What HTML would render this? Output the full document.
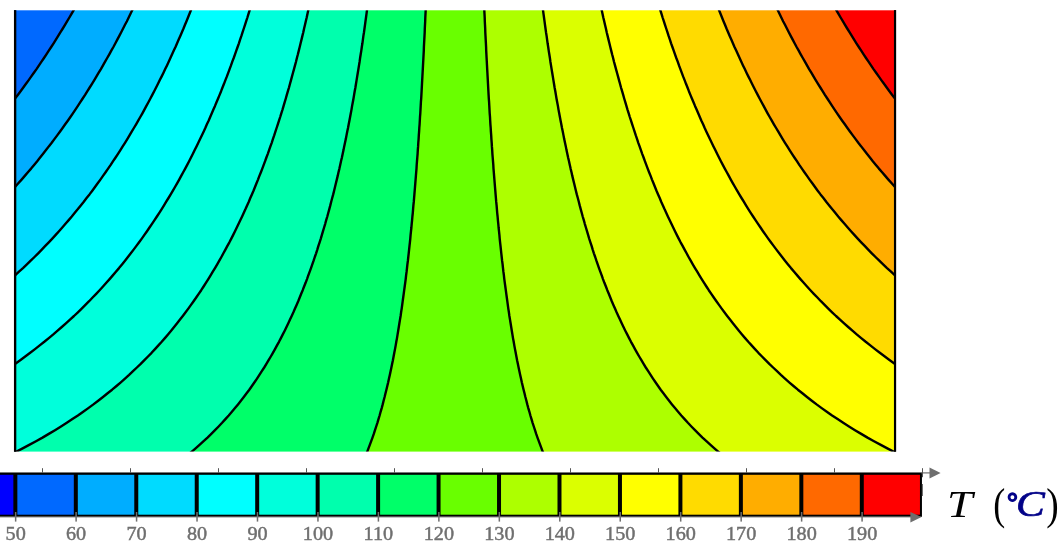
<!DOCTYPE html>
<html><head><meta charset="utf-8"><title>Temperature contour</title>
<style>html,body{margin:0;padding:0;background:#fff;}svg{display:block;}</style></head>
<body>
<svg width="1064" height="548" viewBox="0 0 1064 548">
<rect width="1064" height="548" fill="#fff"/>
<defs><clipPath id="cp"><rect x="14" y="10" width="882" height="442"/></clipPath></defs>
<g clip-path="url(#cp)">
<rect x="9.0" y="4.300000000000001" width="892.0" height="453.3" fill="#0069ff"/>
<polygon points="6.2,467.0 6.2,463.4 6.2,459.7 6.2,456.0 6.2,452.3 6.2,448.6 6.2,444.9 6.2,441.2 6.2,437.6 6.2,433.9 6.2,430.2 6.2,426.5 6.2,422.8 6.2,419.1 6.2,415.5 6.2,411.8 6.2,408.1 6.2,404.4 6.2,400.7 6.2,397.0 6.2,393.3 6.2,389.7 6.2,386.0 6.2,382.3 6.2,378.6 6.2,374.9 6.2,371.2 6.2,367.5 6.2,363.9 6.2,360.2 6.2,356.5 6.2,352.8 6.2,349.1 6.2,345.4 6.2,341.8 6.2,338.1 6.2,334.4 6.2,330.7 6.2,327.0 6.2,323.3 6.2,319.6 6.2,316.0 6.2,312.3 6.2,308.6 6.2,304.9 6.2,301.2 6.2,297.5 6.2,293.8 6.2,290.2 6.2,286.5 6.2,282.8 6.2,279.1 6.2,275.4 6.2,271.7 6.2,268.1 6.2,264.4 6.2,260.7 6.2,257.0 6.2,253.3 6.2,249.6 6.2,245.9 6.2,242.3 6.2,238.6 6.2,234.9 6.2,231.2 6.2,227.5 6.2,223.8 6.2,220.1 6.2,216.5 6.2,212.8 6.2,209.1 6.2,205.4 6.2,201.7 6.2,198.0 6.2,194.4 6.2,190.7 6.2,187.0 6.2,183.3 6.2,179.6 6.2,175.9 6.2,172.2 6.2,168.6 6.2,164.9 6.2,161.2 6.2,157.5 6.2,153.8 6.2,150.1 6.2,146.4 6.2,142.8 6.2,139.1 6.2,135.4 6.2,131.7 6.2,128.0 6.2,124.3 6.2,120.7 6.2,117.0 6.2,113.3 6.4,109.6 9.3,105.9 12.2,102.2 15.0,98.5 17.8,94.9 20.6,91.2 23.3,87.5 26.0,83.8 28.7,80.1 31.3,76.4 33.9,72.7 36.5,69.1 39.0,65.4 41.5,61.7 44.0,58.0 46.4,54.3 48.8,50.6 51.2,47.0 53.6,43.3 55.9,39.6 58.2,35.9 60.5,32.2 62.8,28.5 65.0,24.8 67.2,21.2 69.4,17.5 71.5,13.8 73.7,10.1 75.8,6.4 77.9,2.7 79.9,-1.0 82.0,-4.6 903.0,-4.6 903.0,467.0" fill="#00adff"/>
<polygon points="6.2,467.0 6.2,463.4 6.2,459.7 6.2,456.0 6.2,452.3 6.2,448.6 6.2,444.9 6.2,441.2 6.2,437.6 6.2,433.9 6.2,430.2 6.2,426.5 6.2,422.8 6.2,419.1 6.2,415.5 6.2,411.8 6.2,408.1 6.2,404.4 6.2,400.7 6.2,397.0 6.2,393.3 6.2,389.7 6.2,386.0 6.2,382.3 6.2,378.6 6.2,374.9 6.2,371.2 6.2,367.5 6.2,363.9 6.2,360.2 6.2,356.5 6.2,352.8 6.2,349.1 6.2,345.4 6.2,341.8 6.2,338.1 6.2,334.4 6.2,330.7 6.2,327.0 6.2,323.3 6.2,319.6 6.2,316.0 6.2,312.3 6.2,308.6 6.2,304.9 6.2,301.2 6.2,297.5 6.2,293.8 6.2,290.2 6.2,286.5 6.2,282.8 6.2,279.1 6.2,275.4 6.2,271.7 6.2,268.1 6.2,264.4 6.2,260.7 6.2,257.0 6.2,253.3 6.2,249.6 6.2,245.9 6.2,242.3 6.2,238.6 6.2,234.9 6.2,231.2 6.2,227.5 6.2,223.8 6.2,220.1 6.2,216.5 6.2,212.8 6.2,209.1 6.2,205.4 6.2,201.7 6.2,198.0 8.2,194.4 11.6,190.7 15.0,187.0 18.3,183.3 21.6,179.6 24.8,175.9 27.9,172.2 31.1,168.6 34.1,164.9 37.2,161.2 40.1,157.5 43.1,153.8 46.0,150.1 48.8,146.4 51.7,142.8 54.4,139.1 57.2,135.4 59.9,131.7 62.6,128.0 65.2,124.3 67.8,120.7 70.4,117.0 72.9,113.3 75.4,109.6 77.9,105.9 80.3,102.2 82.7,98.5 85.1,94.9 87.4,91.2 89.7,87.5 92.0,83.8 94.3,80.1 96.5,76.4 98.7,72.7 100.9,69.1 103.0,65.4 105.1,61.7 107.2,58.0 109.3,54.3 111.3,50.6 113.4,47.0 115.4,43.3 117.3,39.6 119.3,35.9 121.2,32.2 123.1,28.5 125.0,24.8 126.9,21.2 128.7,17.5 130.5,13.8 132.3,10.1 134.1,6.4 135.9,2.7 137.6,-1.0 139.3,-4.6 903.0,-4.6 903.0,467.0" fill="#00dbff"/>
<polygon points="6.2,467.0 6.2,463.4 6.2,459.7 6.2,456.0 6.2,452.3 6.2,448.6 6.2,444.9 6.2,441.2 6.2,437.6 6.2,433.9 6.2,430.2 6.2,426.5 6.2,422.8 6.2,419.1 6.2,415.5 6.2,411.8 6.2,408.1 6.2,404.4 6.2,400.7 6.2,397.0 6.2,393.3 6.2,389.7 6.2,386.0 6.2,382.3 6.2,378.6 6.2,374.9 6.2,371.2 6.2,367.5 6.2,363.9 6.2,360.2 6.2,356.5 6.2,352.8 6.2,349.1 6.2,345.4 6.2,341.8 6.2,338.1 6.2,334.4 6.2,330.7 6.2,327.0 6.2,323.3 6.2,319.6 6.2,316.0 6.2,312.3 6.2,308.6 6.2,304.9 6.2,301.2 6.2,297.5 6.2,293.8 6.2,290.2 6.2,286.5 6.7,282.8 10.9,279.1 15.0,275.4 19.0,271.7 23.0,268.1 26.9,264.4 30.7,260.7 34.5,257.0 38.2,253.3 41.8,249.6 45.3,245.9 48.8,242.3 52.3,238.6 55.7,234.9 59.0,231.2 62.3,227.5 65.5,223.8 68.7,220.1 71.8,216.5 74.8,212.8 77.9,209.1 80.8,205.4 83.8,201.7 86.6,198.0 89.5,194.4 92.3,190.7 95.0,187.0 97.7,183.3 100.4,179.6 103.0,175.9 105.6,172.2 108.1,168.6 110.7,164.9 113.1,161.2 115.6,157.5 118.0,153.8 120.4,150.1 122.7,146.4 125.0,142.8 127.3,139.1 129.5,135.4 131.7,131.7 133.9,128.0 136.1,124.3 138.2,120.7 140.3,117.0 142.4,113.3 144.4,109.6 146.4,105.9 148.4,102.2 150.4,98.5 152.3,94.9 154.2,91.2 156.1,87.5 158.0,83.8 159.8,80.1 161.7,76.4 163.5,72.7 165.2,69.1 167.0,65.4 168.7,61.7 170.4,58.0 172.1,54.3 173.8,50.6 175.5,47.0 177.1,43.3 178.7,39.6 180.3,35.9 181.9,32.2 183.5,28.5 185.0,24.8 186.5,21.2 188.0,17.5 189.5,13.8 191.0,10.1 192.5,6.4 193.9,2.7 195.3,-1.0 196.7,-4.6 903.0,-4.6 903.0,467.0" fill="#00ffff"/>
<polygon points="6.2,467.0 6.2,463.4 6.2,459.7 6.2,456.0 6.2,452.3 6.2,448.6 6.2,444.9 6.2,441.2 6.2,437.6 6.2,433.9 6.2,430.2 6.2,426.5 6.2,422.8 6.2,419.1 6.2,415.5 6.2,411.8 6.2,408.1 6.2,404.4 6.2,400.7 6.2,397.0 6.2,393.3 6.2,389.7 6.2,386.0 6.2,382.3 6.2,378.6 6.2,374.9 6.2,371.2 9.7,367.5 15.0,363.9 20.2,360.2 25.2,356.5 30.2,352.8 35.0,349.1 39.7,345.4 44.3,341.8 48.8,338.1 53.3,334.4 57.6,330.7 61.8,327.0 65.9,323.3 70.0,319.6 74.0,316.0 77.9,312.3 81.7,308.6 85.4,304.9 89.1,301.2 92.6,297.5 96.2,293.8 99.6,290.2 103.0,286.5 106.3,282.8 109.6,279.1 112.8,275.4 115.9,271.7 119.0,268.1 122.0,264.4 125.0,260.7 127.9,257.0 130.8,253.3 133.6,249.6 136.4,245.9 139.1,242.3 141.8,238.6 144.4,234.9 147.0,231.2 149.5,227.5 152.0,223.8 154.5,220.1 156.9,216.5 159.3,212.8 161.7,209.1 164.0,205.4 166.2,201.7 168.5,198.0 170.7,194.4 172.9,190.7 175.0,187.0 177.1,183.3 179.2,179.6 181.2,175.9 183.2,172.2 185.2,168.6 187.2,164.9 189.1,161.2 191.0,157.5 192.9,153.8 194.7,150.1 196.5,146.4 198.3,142.8 200.1,139.1 201.8,135.4 203.6,131.7 205.3,128.0 206.9,124.3 208.6,120.7 210.2,117.0 211.8,113.3 213.4,109.6 215.0,105.9 216.5,102.2 218.1,98.5 219.6,94.9 221.1,91.2 222.5,87.5 224.0,83.8 225.4,80.1 226.9,76.4 228.3,72.7 229.6,69.1 231.0,65.4 232.3,61.7 233.7,58.0 235.0,54.3 236.3,50.6 237.6,47.0 238.9,43.3 240.1,39.6 241.4,35.9 242.6,32.2 243.8,28.5 245.0,24.8 246.2,21.2 247.4,17.5 248.5,13.8 249.7,10.1 250.8,6.4 251.9,2.7 253.0,-1.0 254.1,-4.6 903.0,-4.6 903.0,467.0" fill="#00ffdb"/>
<polygon points="6.2,467.0 6.2,463.4 6.2,459.7 7.5,456.0 15.0,452.3 22.2,448.6 29.2,444.9 36.0,441.2 42.5,437.6 48.8,433.9 55.0,430.2 61.0,426.5 66.8,422.8 72.4,419.1 77.9,415.5 83.2,411.8 88.3,408.1 93.4,404.4 98.2,400.7 103.0,397.0 107.6,393.3 112.1,389.7 116.5,386.0 120.8,382.3 125.0,378.6 129.1,374.9 133.0,371.2 136.9,367.5 140.7,363.9 144.4,360.2 148.0,356.5 151.6,352.8 155.0,349.1 158.4,345.4 161.7,341.8 164.9,338.1 168.0,334.4 171.1,330.7 174.1,327.0 177.1,323.3 180.0,319.6 182.8,316.0 185.6,312.3 188.3,308.6 191.0,304.9 193.6,301.2 196.2,297.5 198.7,293.8 201.2,290.2 203.6,286.5 205.9,282.8 208.3,279.1 210.6,275.4 212.8,271.7 215.0,268.1 217.2,264.4 219.3,260.7 221.4,257.0 223.4,253.3 225.4,249.6 227.4,245.9 229.4,242.3 231.3,238.6 233.2,234.9 235.0,231.2 236.8,227.5 238.6,223.8 240.4,220.1 242.1,216.5 243.8,212.8 245.5,209.1 247.1,205.4 248.8,201.7 250.3,198.0 251.9,194.4 253.5,190.7 255.0,187.0 256.5,183.3 258.0,179.6 259.4,175.9 260.9,172.2 262.3,168.6 263.7,164.9 265.1,161.2 266.4,157.5 267.8,153.8 269.1,150.1 270.4,146.4 271.7,142.8 272.9,139.1 274.2,135.4 275.4,131.7 276.6,128.0 277.8,124.3 279.0,120.7 280.2,117.0 281.3,113.3 282.5,109.6 283.6,105.9 284.7,102.2 285.8,98.5 286.8,94.9 287.9,91.2 289.0,87.5 290.0,83.8 291.0,80.1 292.0,76.4 293.0,72.7 294.0,69.1 295.0,65.4 296.0,61.7 296.9,58.0 297.9,54.3 298.8,50.6 299.7,47.0 300.6,43.3 301.5,39.6 302.4,35.9 303.3,32.2 304.1,28.5 305.0,24.8 305.8,21.2 306.7,17.5 307.5,13.8 308.3,10.1 309.1,6.4 309.9,2.7 310.7,-1.0 311.5,-4.6 903.0,-4.6 903.0,467.0" fill="#00ffad"/>
<polygon points="172.1,467.0 177.1,463.4 181.9,459.7 186.5,456.0 191.0,452.3 195.3,448.6 199.5,444.9 203.6,441.2 207.5,437.6 211.3,433.9 215.0,430.2 218.6,426.5 222.1,422.8 225.4,419.1 228.7,415.5 231.9,411.8 235.0,408.1 238.0,404.4 240.9,400.7 243.8,397.0 246.6,393.3 249.3,389.7 251.9,386.0 254.5,382.3 257.0,378.6 259.4,374.9 261.8,371.2 264.2,367.5 266.4,363.9 268.6,360.2 270.8,356.5 272.9,352.8 275.0,349.1 277.0,345.4 279.0,341.8 280.9,338.1 282.8,334.4 284.7,330.7 286.5,327.0 288.3,323.3 290.0,319.6 291.7,316.0 293.4,312.3 295.0,308.6 296.6,304.9 298.2,301.2 299.7,297.5 301.2,293.8 302.7,290.2 304.1,286.5 305.6,282.8 307.0,279.1 308.3,275.4 309.7,271.7 311.0,268.1 312.3,264.4 313.6,260.7 314.8,257.0 316.1,253.3 317.3,249.6 318.4,245.9 319.6,242.3 320.8,238.6 321.9,234.9 323.0,231.2 324.1,227.5 325.2,223.8 326.2,220.1 327.3,216.5 328.3,212.8 329.3,209.1 330.3,205.4 331.2,201.7 332.2,198.0 333.2,194.4 334.1,190.7 335.0,187.0 335.9,183.3 336.8,179.6 337.7,175.9 338.5,172.2 339.4,168.6 340.2,164.9 341.0,161.2 341.9,157.5 342.7,153.8 343.5,150.1 344.2,146.4 345.0,142.8 345.8,139.1 346.5,135.4 347.2,131.7 348.0,128.0 348.7,124.3 349.4,120.7 350.1,117.0 350.8,113.3 351.5,109.6 352.1,105.9 352.8,102.2 353.5,98.5 354.1,94.9 354.7,91.2 355.4,87.5 356.0,83.8 356.6,80.1 357.2,76.4 357.8,72.7 358.4,69.1 359.0,65.4 359.6,61.7 360.1,58.0 360.7,54.3 361.3,50.6 361.8,47.0 362.4,43.3 362.9,39.6 363.4,35.9 364.0,32.2 364.5,28.5 365.0,24.8 365.5,21.2 366.0,17.5 366.5,13.8 367.0,10.1 367.5,6.4 368.0,2.7 368.4,-1.0 368.9,-4.6 903.0,-4.6 903.0,467.0" fill="#00ff69"/>
<polygon points="360.7,467.0 362.4,463.4 364.0,459.7 365.5,456.0 367.0,452.3 368.4,448.6 369.8,444.9 371.2,441.2 372.5,437.6 373.8,433.9 375.0,430.2 376.2,426.5 377.4,422.8 378.5,419.1 379.6,415.5 380.6,411.8 381.7,408.1 382.7,404.4 383.6,400.7 384.6,397.0 385.5,393.3 386.4,389.7 387.3,386.0 388.2,382.3 389.0,378.6 389.8,374.9 390.6,371.2 391.4,367.5 392.1,363.9 392.9,360.2 393.6,356.5 394.3,352.8 395.0,349.1 395.7,345.4 396.3,341.8 397.0,338.1 397.6,334.4 398.2,330.7 398.8,327.0 399.4,323.3 400.0,319.6 400.6,316.0 401.1,312.3 401.7,308.6 402.2,304.9 402.7,301.2 403.2,297.5 403.7,293.8 404.2,290.2 404.7,286.5 405.2,282.8 405.7,279.1 406.1,275.4 406.6,271.7 407.0,268.1 407.4,264.4 407.9,260.7 408.3,257.0 408.7,253.3 409.1,249.6 409.5,245.9 409.9,242.3 410.3,238.6 410.6,234.9 411.0,231.2 411.4,227.5 411.7,223.8 412.1,220.1 412.4,216.5 412.8,212.8 413.1,209.1 413.4,205.4 413.8,201.7 414.1,198.0 414.4,194.4 414.7,190.7 415.0,187.0 415.3,183.3 415.6,179.6 415.9,175.9 416.2,172.2 416.5,168.6 416.7,164.9 417.0,161.2 417.3,157.5 417.6,153.8 417.8,150.1 418.1,146.4 418.3,142.8 418.6,139.1 418.8,135.4 419.1,131.7 419.3,128.0 419.6,124.3 419.8,120.7 420.0,117.0 420.3,113.3 420.5,109.6 420.7,105.9 420.9,102.2 421.2,98.5 421.4,94.9 421.6,91.2 421.8,87.5 422.0,83.8 422.2,80.1 422.4,76.4 422.6,72.7 422.8,69.1 423.0,65.4 423.2,61.7 423.4,58.0 423.6,54.3 423.8,50.6 423.9,47.0 424.1,43.3 424.3,39.6 424.5,35.9 424.7,32.2 424.8,28.5 425.0,24.8 425.2,21.2 425.3,17.5 425.5,13.8 425.7,10.1 425.8,6.4 426.0,2.7 426.1,-1.0 426.3,-4.6 903.0,-4.6 903.0,467.0" fill="#69ff00"/>
<polygon points="549.3,467.0 547.6,463.4 546.0,459.7 544.5,456.0 543.0,452.3 541.6,448.6 540.2,444.9 538.8,441.2 537.5,437.6 536.2,433.9 535.0,430.2 533.8,426.5 532.6,422.8 531.5,419.1 530.4,415.5 529.4,411.8 528.3,408.1 527.3,404.4 526.4,400.7 525.4,397.0 524.5,393.3 523.6,389.7 522.7,386.0 521.8,382.3 521.0,378.6 520.2,374.9 519.4,371.2 518.6,367.5 517.9,363.9 517.1,360.2 516.4,356.5 515.7,352.8 515.0,349.1 514.3,345.4 513.7,341.8 513.0,338.1 512.4,334.4 511.8,330.7 511.2,327.0 510.6,323.3 510.0,319.6 509.4,316.0 508.9,312.3 508.3,308.6 507.8,304.9 507.3,301.2 506.8,297.5 506.3,293.8 505.8,290.2 505.3,286.5 504.8,282.8 504.3,279.1 503.9,275.4 503.4,271.7 503.0,268.1 502.6,264.4 502.1,260.7 501.7,257.0 501.3,253.3 500.9,249.6 500.5,245.9 500.1,242.3 499.7,238.6 499.4,234.9 499.0,231.2 498.6,227.5 498.3,223.8 497.9,220.1 497.6,216.5 497.2,212.8 496.9,209.1 496.6,205.4 496.2,201.7 495.9,198.0 495.6,194.4 495.3,190.7 495.0,187.0 494.7,183.3 494.4,179.6 494.1,175.9 493.8,172.2 493.5,168.6 493.3,164.9 493.0,161.2 492.7,157.5 492.4,153.8 492.2,150.1 491.9,146.4 491.7,142.8 491.4,139.1 491.2,135.4 490.9,131.7 490.7,128.0 490.4,124.3 490.2,120.7 490.0,117.0 489.7,113.3 489.5,109.6 489.3,105.9 489.1,102.2 488.8,98.5 488.6,94.9 488.4,91.2 488.2,87.5 488.0,83.8 487.8,80.1 487.6,76.4 487.4,72.7 487.2,69.1 487.0,65.4 486.8,61.7 486.6,58.0 486.4,54.3 486.2,50.6 486.1,47.0 485.9,43.3 485.7,39.6 485.5,35.9 485.3,32.2 485.2,28.5 485.0,24.8 484.8,21.2 484.7,17.5 484.5,13.8 484.3,10.1 484.2,6.4 484.0,2.7 483.9,-1.0 483.7,-4.6 903.0,-4.6 903.0,467.0" fill="#adff00"/>
<polygon points="737.9,467.0 732.9,463.4 728.1,459.7 723.5,456.0 719.0,452.3 714.7,448.6 710.5,444.9 706.4,441.2 702.5,437.6 698.7,433.9 695.0,430.2 691.4,426.5 687.9,422.8 684.6,419.1 681.3,415.5 678.1,411.8 675.0,408.1 672.0,404.4 669.1,400.7 666.2,397.0 663.4,393.3 660.7,389.7 658.1,386.0 655.5,382.3 653.0,378.6 650.6,374.9 648.2,371.2 645.8,367.5 643.6,363.9 641.4,360.2 639.2,356.5 637.1,352.8 635.0,349.1 633.0,345.4 631.0,341.8 629.1,338.1 627.2,334.4 625.3,330.7 623.5,327.0 621.7,323.3 620.0,319.6 618.3,316.0 616.6,312.3 615.0,308.6 613.4,304.9 611.8,301.2 610.3,297.5 608.8,293.8 607.3,290.2 605.9,286.5 604.4,282.8 603.0,279.1 601.7,275.4 600.3,271.7 599.0,268.1 597.7,264.4 596.4,260.7 595.2,257.0 593.9,253.3 592.7,249.6 591.6,245.9 590.4,242.3 589.2,238.6 588.1,234.9 587.0,231.2 585.9,227.5 584.8,223.8 583.8,220.1 582.7,216.5 581.7,212.8 580.7,209.1 579.7,205.4 578.8,201.7 577.8,198.0 576.8,194.4 575.9,190.7 575.0,187.0 574.1,183.3 573.2,179.6 572.3,175.9 571.5,172.2 570.6,168.6 569.8,164.9 569.0,161.2 568.1,157.5 567.3,153.8 566.5,150.1 565.8,146.4 565.0,142.8 564.2,139.1 563.5,135.4 562.8,131.7 562.0,128.0 561.3,124.3 560.6,120.7 559.9,117.0 559.2,113.3 558.5,109.6 557.9,105.9 557.2,102.2 556.5,98.5 555.9,94.9 555.3,91.2 554.6,87.5 554.0,83.8 553.4,80.1 552.8,76.4 552.2,72.7 551.6,69.1 551.0,65.4 550.4,61.7 549.9,58.0 549.3,54.3 548.7,50.6 548.2,47.0 547.6,43.3 547.1,39.6 546.6,35.9 546.0,32.2 545.5,28.5 545.0,24.8 544.5,21.2 544.0,17.5 543.5,13.8 543.0,10.1 542.5,6.4 542.0,2.7 541.6,-1.0 541.1,-4.6 903.0,-4.6 903.0,467.0" fill="#dbff00"/>
<polygon points="903.8,467.0 903.8,463.4 903.8,459.7 902.5,456.0 895.0,452.3 887.8,448.6 880.8,444.9 874.0,441.2 867.5,437.6 861.2,433.9 855.0,430.2 849.0,426.5 843.2,422.8 837.6,419.1 832.1,415.5 826.8,411.8 821.7,408.1 816.6,404.4 811.8,400.7 807.0,397.0 802.4,393.3 797.9,389.7 793.5,386.0 789.2,382.3 785.0,378.6 780.9,374.9 777.0,371.2 773.1,367.5 769.3,363.9 765.6,360.2 762.0,356.5 758.4,352.8 755.0,349.1 751.6,345.4 748.3,341.8 745.1,338.1 742.0,334.4 738.9,330.7 735.9,327.0 732.9,323.3 730.0,319.6 727.2,316.0 724.4,312.3 721.7,308.6 719.0,304.9 716.4,301.2 713.8,297.5 711.3,293.8 708.8,290.2 706.4,286.5 704.1,282.8 701.7,279.1 699.4,275.4 697.2,271.7 695.0,268.1 692.8,264.4 690.7,260.7 688.6,257.0 686.6,253.3 684.6,249.6 682.6,245.9 680.6,242.3 678.7,238.6 676.8,234.9 675.0,231.2 673.2,227.5 671.4,223.8 669.6,220.1 667.9,216.5 666.2,212.8 664.5,209.1 662.9,205.4 661.2,201.7 659.7,198.0 658.1,194.4 656.5,190.7 655.0,187.0 653.5,183.3 652.0,179.6 650.6,175.9 649.1,172.2 647.7,168.6 646.3,164.9 644.9,161.2 643.6,157.5 642.2,153.8 640.9,150.1 639.6,146.4 638.3,142.8 637.1,139.1 635.8,135.4 634.6,131.7 633.4,128.0 632.2,124.3 631.0,120.7 629.8,117.0 628.7,113.3 627.5,109.6 626.4,105.9 625.3,102.2 624.2,98.5 623.2,94.9 622.1,91.2 621.0,87.5 620.0,83.8 619.0,80.1 618.0,76.4 617.0,72.7 616.0,69.1 615.0,65.4 614.0,61.7 613.1,58.0 612.1,54.3 611.2,50.6 610.3,47.0 609.4,43.3 608.5,39.6 607.6,35.9 606.7,32.2 605.9,28.5 605.0,24.8 604.2,21.2 603.3,17.5 602.5,13.8 601.7,10.1 600.9,6.4 600.1,2.7 599.3,-1.0 598.5,-4.6 903.0,-4.6 903.0,467.0" fill="#ffff00"/>
<polygon points="903.8,467.0 903.8,463.4 903.8,459.7 903.8,456.0 903.8,452.3 903.8,448.6 903.8,444.9 903.8,441.2 903.8,437.6 903.8,433.9 903.8,430.2 903.8,426.5 903.8,422.8 903.8,419.1 903.8,415.5 903.8,411.8 903.8,408.1 903.8,404.4 903.8,400.7 903.8,397.0 903.8,393.3 903.8,389.7 903.8,386.0 903.8,382.3 903.8,378.6 903.8,374.9 903.8,371.2 900.3,367.5 895.0,363.9 889.8,360.2 884.8,356.5 879.8,352.8 875.0,349.1 870.3,345.4 865.7,341.8 861.2,338.1 856.7,334.4 852.4,330.7 848.2,327.0 844.1,323.3 840.0,319.6 836.0,316.0 832.1,312.3 828.3,308.6 824.6,304.9 820.9,301.2 817.4,297.5 813.8,293.8 810.4,290.2 807.0,286.5 803.7,282.8 800.4,279.1 797.2,275.4 794.1,271.7 791.0,268.1 788.0,264.4 785.0,260.7 782.1,257.0 779.2,253.3 776.4,249.6 773.6,245.9 770.9,242.3 768.2,238.6 765.6,234.9 763.0,231.2 760.5,227.5 758.0,223.8 755.5,220.1 753.1,216.5 750.7,212.8 748.3,209.1 746.0,205.4 743.8,201.7 741.5,198.0 739.3,194.4 737.1,190.7 735.0,187.0 732.9,183.3 730.8,179.6 728.8,175.9 726.8,172.2 724.8,168.6 722.8,164.9 720.9,161.2 719.0,157.5 717.1,153.8 715.3,150.1 713.5,146.4 711.7,142.8 709.9,139.1 708.2,135.4 706.4,131.7 704.7,128.0 703.1,124.3 701.4,120.7 699.8,117.0 698.2,113.3 696.6,109.6 695.0,105.9 693.5,102.2 691.9,98.5 690.4,94.9 688.9,91.2 687.5,87.5 686.0,83.8 684.6,80.1 683.1,76.4 681.7,72.7 680.4,69.1 679.0,65.4 677.7,61.7 676.3,58.0 675.0,54.3 673.7,50.6 672.4,47.0 671.1,43.3 669.9,39.6 668.6,35.9 667.4,32.2 666.2,28.5 665.0,24.8 663.8,21.2 662.6,17.5 661.5,13.8 660.3,10.1 659.2,6.4 658.1,2.7 657.0,-1.0 655.9,-4.6 903.0,-4.6 903.0,467.0" fill="#ffdb00"/>
<polygon points="903.8,467.0 903.8,463.4 903.8,459.7 903.8,456.0 903.8,452.3 903.8,448.6 903.8,444.9 903.8,441.2 903.8,437.6 903.8,433.9 903.8,430.2 903.8,426.5 903.8,422.8 903.8,419.1 903.8,415.5 903.8,411.8 903.8,408.1 903.8,404.4 903.8,400.7 903.8,397.0 903.8,393.3 903.8,389.7 903.8,386.0 903.8,382.3 903.8,378.6 903.8,374.9 903.8,371.2 903.8,367.5 903.8,363.9 903.8,360.2 903.8,356.5 903.8,352.8 903.8,349.1 903.8,345.4 903.8,341.8 903.8,338.1 903.8,334.4 903.8,330.7 903.8,327.0 903.8,323.3 903.8,319.6 903.8,316.0 903.8,312.3 903.8,308.6 903.8,304.9 903.8,301.2 903.8,297.5 903.8,293.8 903.8,290.2 903.8,286.5 903.3,282.8 899.1,279.1 895.0,275.4 891.0,271.7 887.0,268.1 883.1,264.4 879.3,260.7 875.5,257.0 871.8,253.3 868.2,249.6 864.7,245.9 861.2,242.3 857.7,238.6 854.3,234.9 851.0,231.2 847.7,227.5 844.5,223.8 841.3,220.1 838.2,216.5 835.2,212.8 832.1,209.1 829.2,205.4 826.2,201.7 823.4,198.0 820.5,194.4 817.7,190.7 815.0,187.0 812.3,183.3 809.6,179.6 807.0,175.9 804.4,172.2 801.9,168.6 799.3,164.9 796.9,161.2 794.4,157.5 792.0,153.8 789.6,150.1 787.3,146.4 785.0,142.8 782.7,139.1 780.5,135.4 778.3,131.7 776.1,128.0 773.9,124.3 771.8,120.7 769.7,117.0 767.6,113.3 765.6,109.6 763.6,105.9 761.6,102.2 759.6,98.5 757.7,94.9 755.8,91.2 753.9,87.5 752.0,83.8 750.2,80.1 748.3,76.4 746.5,72.7 744.8,69.1 743.0,65.4 741.3,61.7 739.6,58.0 737.9,54.3 736.2,50.6 734.5,47.0 732.9,43.3 731.3,39.6 729.7,35.9 728.1,32.2 726.5,28.5 725.0,24.8 723.5,21.2 722.0,17.5 720.5,13.8 719.0,10.1 717.5,6.4 716.1,2.7 714.7,-1.0 713.3,-4.6 903.0,-4.6 903.0,467.0" fill="#ffad00"/>
<polygon points="903.8,467.0 903.8,463.4 903.8,459.7 903.8,456.0 903.8,452.3 903.8,448.6 903.8,444.9 903.8,441.2 903.8,437.6 903.8,433.9 903.8,430.2 903.8,426.5 903.8,422.8 903.8,419.1 903.8,415.5 903.8,411.8 903.8,408.1 903.8,404.4 903.8,400.7 903.8,397.0 903.8,393.3 903.8,389.7 903.8,386.0 903.8,382.3 903.8,378.6 903.8,374.9 903.8,371.2 903.8,367.5 903.8,363.9 903.8,360.2 903.8,356.5 903.8,352.8 903.8,349.1 903.8,345.4 903.8,341.8 903.8,338.1 903.8,334.4 903.8,330.7 903.8,327.0 903.8,323.3 903.8,319.6 903.8,316.0 903.8,312.3 903.8,308.6 903.8,304.9 903.8,301.2 903.8,297.5 903.8,293.8 903.8,290.2 903.8,286.5 903.8,282.8 903.8,279.1 903.8,275.4 903.8,271.7 903.8,268.1 903.8,264.4 903.8,260.7 903.8,257.0 903.8,253.3 903.8,249.6 903.8,245.9 903.8,242.3 903.8,238.6 903.8,234.9 903.8,231.2 903.8,227.5 903.8,223.8 903.8,220.1 903.8,216.5 903.8,212.8 903.8,209.1 903.8,205.4 903.8,201.7 903.8,198.0 901.8,194.4 898.4,190.7 895.0,187.0 891.7,183.3 888.4,179.6 885.2,175.9 882.1,172.2 878.9,168.6 875.9,164.9 872.8,161.2 869.9,157.5 866.9,153.8 864.0,150.1 861.2,146.4 858.3,142.8 855.6,139.1 852.8,135.4 850.1,131.7 847.4,128.0 844.8,124.3 842.2,120.7 839.6,117.0 837.1,113.3 834.6,109.6 832.1,105.9 829.7,102.2 827.3,98.5 824.9,94.9 822.6,91.2 820.3,87.5 818.0,83.8 815.7,80.1 813.5,76.4 811.3,72.7 809.1,69.1 807.0,65.4 804.9,61.7 802.8,58.0 800.7,54.3 798.7,50.6 796.6,47.0 794.6,43.3 792.7,39.6 790.7,35.9 788.8,32.2 786.9,28.5 785.0,24.8 783.1,21.2 781.3,17.5 779.5,13.8 777.7,10.1 775.9,6.4 774.1,2.7 772.4,-1.0 770.7,-4.6 903.0,-4.6 903.0,467.0" fill="#ff6900"/>
<polygon points="903.8,467.0 903.8,463.4 903.8,459.7 903.8,456.0 903.8,452.3 903.8,448.6 903.8,444.9 903.8,441.2 903.8,437.6 903.8,433.9 903.8,430.2 903.8,426.5 903.8,422.8 903.8,419.1 903.8,415.5 903.8,411.8 903.8,408.1 903.8,404.4 903.8,400.7 903.8,397.0 903.8,393.3 903.8,389.7 903.8,386.0 903.8,382.3 903.8,378.6 903.8,374.9 903.8,371.2 903.8,367.5 903.8,363.9 903.8,360.2 903.8,356.5 903.8,352.8 903.8,349.1 903.8,345.4 903.8,341.8 903.8,338.1 903.8,334.4 903.8,330.7 903.8,327.0 903.8,323.3 903.8,319.6 903.8,316.0 903.8,312.3 903.8,308.6 903.8,304.9 903.8,301.2 903.8,297.5 903.8,293.8 903.8,290.2 903.8,286.5 903.8,282.8 903.8,279.1 903.8,275.4 903.8,271.7 903.8,268.1 903.8,264.4 903.8,260.7 903.8,257.0 903.8,253.3 903.8,249.6 903.8,245.9 903.8,242.3 903.8,238.6 903.8,234.9 903.8,231.2 903.8,227.5 903.8,223.8 903.8,220.1 903.8,216.5 903.8,212.8 903.8,209.1 903.8,205.4 903.8,201.7 903.8,198.0 903.8,194.4 903.8,190.7 903.8,187.0 903.8,183.3 903.8,179.6 903.8,175.9 903.8,172.2 903.8,168.6 903.8,164.9 903.8,161.2 903.8,157.5 903.8,153.8 903.8,150.1 903.8,146.4 903.8,142.8 903.8,139.1 903.8,135.4 903.8,131.7 903.8,128.0 903.8,124.3 903.8,120.7 903.8,117.0 903.8,113.3 903.6,109.6 900.7,105.9 897.8,102.2 895.0,98.5 892.2,94.9 889.4,91.2 886.7,87.5 884.0,83.8 881.3,80.1 878.7,76.4 876.1,72.7 873.5,69.1 871.0,65.4 868.5,61.7 866.0,58.0 863.6,54.3 861.2,50.6 858.8,47.0 856.4,43.3 854.1,39.6 851.8,35.9 849.5,32.2 847.2,28.5 845.0,24.8 842.8,21.2 840.6,17.5 838.5,13.8 836.3,10.1 834.2,6.4 832.1,2.7 830.1,-1.0 828.0,-4.6 903.0,-4.6 903.0,467.0" fill="#ff0000"/>
<g fill="none" stroke="#000" stroke-width="2.4" stroke-linejoin="round">
<polyline points="-2.6,120.7 0.4,117.0 3.4,113.3 6.4,109.6 9.3,105.9 12.2,102.2 15.0,98.5 17.8,94.9 20.6,91.2 23.3,87.5 26.0,83.8 28.7,80.1 31.3,76.4 33.9,72.7 36.5,69.1 39.0,65.4 41.5,61.7 44.0,58.0 46.4,54.3 48.8,50.6 51.2,47.0 53.6,43.3 55.9,39.6 58.2,35.9 60.5,32.2 62.8,28.5 65.0,24.8 67.2,21.2 69.4,17.5 71.5,13.8 73.7,10.1 75.8,6.4 77.9,2.7 79.9,-1.0 82.0,-4.6"/>
<polyline points="-2.3,205.4 1.2,201.7 4.8,198.0 8.2,194.4 11.6,190.7 15.0,187.0 18.3,183.3 21.6,179.6 24.8,175.9 27.9,172.2 31.1,168.6 34.1,164.9 37.2,161.2 40.1,157.5 43.1,153.8 46.0,150.1 48.8,146.4 51.7,142.8 54.4,139.1 57.2,135.4 59.9,131.7 62.6,128.0 65.2,124.3 67.8,120.7 70.4,117.0 72.9,113.3 75.4,109.6 77.9,105.9 80.3,102.2 82.7,98.5 85.1,94.9 87.4,91.2 89.7,87.5 92.0,83.8 94.3,80.1 96.5,76.4 98.7,72.7 100.9,69.1 103.0,65.4 105.1,61.7 107.2,58.0 109.3,54.3 111.3,50.6 113.4,47.0 115.4,43.3 117.3,39.6 119.3,35.9 121.2,32.2 123.1,28.5 125.0,24.8 126.9,21.2 128.7,17.5 130.5,13.8 132.3,10.1 134.1,6.4 135.9,2.7 137.6,-1.0 139.3,-4.6"/>
<polyline points="-1.9,290.2 2.4,286.5 6.7,282.8 10.9,279.1 15.0,275.4 19.0,271.7 23.0,268.1 26.9,264.4 30.7,260.7 34.5,257.0 38.2,253.3 41.8,249.6 45.3,245.9 48.8,242.3 52.3,238.6 55.7,234.9 59.0,231.2 62.3,227.5 65.5,223.8 68.7,220.1 71.8,216.5 74.8,212.8 77.9,209.1 80.8,205.4 83.8,201.7 86.6,198.0 89.5,194.4 92.3,190.7 95.0,187.0 97.7,183.3 100.4,179.6 103.0,175.9 105.6,172.2 108.1,168.6 110.7,164.9 113.1,161.2 115.6,157.5 118.0,153.8 120.4,150.1 122.7,146.4 125.0,142.8 127.3,139.1 129.5,135.4 131.7,131.7 133.9,128.0 136.1,124.3 138.2,120.7 140.3,117.0 142.4,113.3 144.4,109.6 146.4,105.9 148.4,102.2 150.4,98.5 152.3,94.9 154.2,91.2 156.1,87.5 158.0,83.8 159.8,80.1 161.7,76.4 163.5,72.7 165.2,69.1 167.0,65.4 168.7,61.7 170.4,58.0 172.1,54.3 173.8,50.6 175.5,47.0 177.1,43.3 178.7,39.6 180.3,35.9 181.9,32.2 183.5,28.5 185.0,24.8 186.5,21.2 188.0,17.5 189.5,13.8 191.0,10.1 192.5,6.4 193.9,2.7 195.3,-1.0 196.7,-4.6"/>
<polyline points="-1.3,374.9 4.3,371.2 9.7,367.5 15.0,363.9 20.2,360.2 25.2,356.5 30.2,352.8 35.0,349.1 39.7,345.4 44.3,341.8 48.8,338.1 53.3,334.4 57.6,330.7 61.8,327.0 65.9,323.3 70.0,319.6 74.0,316.0 77.9,312.3 81.7,308.6 85.4,304.9 89.1,301.2 92.6,297.5 96.2,293.8 99.6,290.2 103.0,286.5 106.3,282.8 109.6,279.1 112.8,275.4 115.9,271.7 119.0,268.1 122.0,264.4 125.0,260.7 127.9,257.0 130.8,253.3 133.6,249.6 136.4,245.9 139.1,242.3 141.8,238.6 144.4,234.9 147.0,231.2 149.5,227.5 152.0,223.8 154.5,220.1 156.9,216.5 159.3,212.8 161.7,209.1 164.0,205.4 166.2,201.7 168.5,198.0 170.7,194.4 172.9,190.7 175.0,187.0 177.1,183.3 179.2,179.6 181.2,175.9 183.2,172.2 185.2,168.6 187.2,164.9 189.1,161.2 191.0,157.5 192.9,153.8 194.7,150.1 196.5,146.4 198.3,142.8 200.1,139.1 201.8,135.4 203.6,131.7 205.3,128.0 206.9,124.3 208.6,120.7 210.2,117.0 211.8,113.3 213.4,109.6 215.0,105.9 216.5,102.2 218.1,98.5 219.6,94.9 221.1,91.2 222.5,87.5 224.0,83.8 225.4,80.1 226.9,76.4 228.3,72.7 229.6,69.1 231.0,65.4 232.3,61.7 233.7,58.0 235.0,54.3 236.3,50.6 237.6,47.0 238.9,43.3 240.1,39.6 241.4,35.9 242.6,32.2 243.8,28.5 245.0,24.8 246.2,21.2 247.4,17.5 248.5,13.8 249.7,10.1 250.8,6.4 251.9,2.7 253.0,-1.0 254.1,-4.6"/>
<polyline points="-0.2,459.7 7.5,456.0 15.0,452.3 22.2,448.6 29.2,444.9 36.0,441.2 42.5,437.6 48.8,433.9 55.0,430.2 61.0,426.5 66.8,422.8 72.4,419.1 77.9,415.5 83.2,411.8 88.3,408.1 93.4,404.4 98.2,400.7 103.0,397.0 107.6,393.3 112.1,389.7 116.5,386.0 120.8,382.3 125.0,378.6 129.1,374.9 133.0,371.2 136.9,367.5 140.7,363.9 144.4,360.2 148.0,356.5 151.6,352.8 155.0,349.1 158.4,345.4 161.7,341.8 164.9,338.1 168.0,334.4 171.1,330.7 174.1,327.0 177.1,323.3 180.0,319.6 182.8,316.0 185.6,312.3 188.3,308.6 191.0,304.9 193.6,301.2 196.2,297.5 198.7,293.8 201.2,290.2 203.6,286.5 205.9,282.8 208.3,279.1 210.6,275.4 212.8,271.7 215.0,268.1 217.2,264.4 219.3,260.7 221.4,257.0 223.4,253.3 225.4,249.6 227.4,245.9 229.4,242.3 231.3,238.6 233.2,234.9 235.0,231.2 236.8,227.5 238.6,223.8 240.4,220.1 242.1,216.5 243.8,212.8 245.5,209.1 247.1,205.4 248.8,201.7 250.3,198.0 251.9,194.4 253.5,190.7 255.0,187.0 256.5,183.3 258.0,179.6 259.4,175.9 260.9,172.2 262.3,168.6 263.7,164.9 265.1,161.2 266.4,157.5 267.8,153.8 269.1,150.1 270.4,146.4 271.7,142.8 272.9,139.1 274.2,135.4 275.4,131.7 276.6,128.0 277.8,124.3 279.0,120.7 280.2,117.0 281.3,113.3 282.5,109.6 283.6,105.9 284.7,102.2 285.8,98.5 286.8,94.9 287.9,91.2 289.0,87.5 290.0,83.8 291.0,80.1 292.0,76.4 293.0,72.7 294.0,69.1 295.0,65.4 296.0,61.7 296.9,58.0 297.9,54.3 298.8,50.6 299.7,47.0 300.6,43.3 301.5,39.6 302.4,35.9 303.3,32.2 304.1,28.5 305.0,24.8 305.8,21.2 306.7,17.5 307.5,13.8 308.3,10.1 309.1,6.4 309.9,2.7 310.7,-1.0 311.5,-4.6"/>
<polyline points="172.1,467.0 177.1,463.4 181.9,459.7 186.5,456.0 191.0,452.3 195.3,448.6 199.5,444.9 203.6,441.2 207.5,437.6 211.3,433.9 215.0,430.2 218.6,426.5 222.1,422.8 225.4,419.1 228.7,415.5 231.9,411.8 235.0,408.1 238.0,404.4 240.9,400.7 243.8,397.0 246.6,393.3 249.3,389.7 251.9,386.0 254.5,382.3 257.0,378.6 259.4,374.9 261.8,371.2 264.2,367.5 266.4,363.9 268.6,360.2 270.8,356.5 272.9,352.8 275.0,349.1 277.0,345.4 279.0,341.8 280.9,338.1 282.8,334.4 284.7,330.7 286.5,327.0 288.3,323.3 290.0,319.6 291.7,316.0 293.4,312.3 295.0,308.6 296.6,304.9 298.2,301.2 299.7,297.5 301.2,293.8 302.7,290.2 304.1,286.5 305.6,282.8 307.0,279.1 308.3,275.4 309.7,271.7 311.0,268.1 312.3,264.4 313.6,260.7 314.8,257.0 316.1,253.3 317.3,249.6 318.4,245.9 319.6,242.3 320.8,238.6 321.9,234.9 323.0,231.2 324.1,227.5 325.2,223.8 326.2,220.1 327.3,216.5 328.3,212.8 329.3,209.1 330.3,205.4 331.2,201.7 332.2,198.0 333.2,194.4 334.1,190.7 335.0,187.0 335.9,183.3 336.8,179.6 337.7,175.9 338.5,172.2 339.4,168.6 340.2,164.9 341.0,161.2 341.9,157.5 342.7,153.8 343.5,150.1 344.2,146.4 345.0,142.8 345.8,139.1 346.5,135.4 347.2,131.7 348.0,128.0 348.7,124.3 349.4,120.7 350.1,117.0 350.8,113.3 351.5,109.6 352.1,105.9 352.8,102.2 353.5,98.5 354.1,94.9 354.7,91.2 355.4,87.5 356.0,83.8 356.6,80.1 357.2,76.4 357.8,72.7 358.4,69.1 359.0,65.4 359.6,61.7 360.1,58.0 360.7,54.3 361.3,50.6 361.8,47.0 362.4,43.3 362.9,39.6 363.4,35.9 364.0,32.2 364.5,28.5 365.0,24.8 365.5,21.2 366.0,17.5 366.5,13.8 367.0,10.1 367.5,6.4 368.0,2.7 368.4,-1.0 368.9,-4.6"/>
<polyline points="360.7,467.0 362.4,463.4 364.0,459.7 365.5,456.0 367.0,452.3 368.4,448.6 369.8,444.9 371.2,441.2 372.5,437.6 373.8,433.9 375.0,430.2 376.2,426.5 377.4,422.8 378.5,419.1 379.6,415.5 380.6,411.8 381.7,408.1 382.7,404.4 383.6,400.7 384.6,397.0 385.5,393.3 386.4,389.7 387.3,386.0 388.2,382.3 389.0,378.6 389.8,374.9 390.6,371.2 391.4,367.5 392.1,363.9 392.9,360.2 393.6,356.5 394.3,352.8 395.0,349.1 395.7,345.4 396.3,341.8 397.0,338.1 397.6,334.4 398.2,330.7 398.8,327.0 399.4,323.3 400.0,319.6 400.6,316.0 401.1,312.3 401.7,308.6 402.2,304.9 402.7,301.2 403.2,297.5 403.7,293.8 404.2,290.2 404.7,286.5 405.2,282.8 405.7,279.1 406.1,275.4 406.6,271.7 407.0,268.1 407.4,264.4 407.9,260.7 408.3,257.0 408.7,253.3 409.1,249.6 409.5,245.9 409.9,242.3 410.3,238.6 410.6,234.9 411.0,231.2 411.4,227.5 411.7,223.8 412.1,220.1 412.4,216.5 412.8,212.8 413.1,209.1 413.4,205.4 413.8,201.7 414.1,198.0 414.4,194.4 414.7,190.7 415.0,187.0 415.3,183.3 415.6,179.6 415.9,175.9 416.2,172.2 416.5,168.6 416.7,164.9 417.0,161.2 417.3,157.5 417.6,153.8 417.8,150.1 418.1,146.4 418.3,142.8 418.6,139.1 418.8,135.4 419.1,131.7 419.3,128.0 419.6,124.3 419.8,120.7 420.0,117.0 420.3,113.3 420.5,109.6 420.7,105.9 420.9,102.2 421.2,98.5 421.4,94.9 421.6,91.2 421.8,87.5 422.0,83.8 422.2,80.1 422.4,76.4 422.6,72.7 422.8,69.1 423.0,65.4 423.2,61.7 423.4,58.0 423.6,54.3 423.8,50.6 423.9,47.0 424.1,43.3 424.3,39.6 424.5,35.9 424.7,32.2 424.8,28.5 425.0,24.8 425.2,21.2 425.3,17.5 425.5,13.8 425.7,10.1 425.8,6.4 426.0,2.7 426.1,-1.0 426.3,-4.6"/>
<polyline points="549.3,467.0 547.6,463.4 546.0,459.7 544.5,456.0 543.0,452.3 541.6,448.6 540.2,444.9 538.8,441.2 537.5,437.6 536.2,433.9 535.0,430.2 533.8,426.5 532.6,422.8 531.5,419.1 530.4,415.5 529.4,411.8 528.3,408.1 527.3,404.4 526.4,400.7 525.4,397.0 524.5,393.3 523.6,389.7 522.7,386.0 521.8,382.3 521.0,378.6 520.2,374.9 519.4,371.2 518.6,367.5 517.9,363.9 517.1,360.2 516.4,356.5 515.7,352.8 515.0,349.1 514.3,345.4 513.7,341.8 513.0,338.1 512.4,334.4 511.8,330.7 511.2,327.0 510.6,323.3 510.0,319.6 509.4,316.0 508.9,312.3 508.3,308.6 507.8,304.9 507.3,301.2 506.8,297.5 506.3,293.8 505.8,290.2 505.3,286.5 504.8,282.8 504.3,279.1 503.9,275.4 503.4,271.7 503.0,268.1 502.6,264.4 502.1,260.7 501.7,257.0 501.3,253.3 500.9,249.6 500.5,245.9 500.1,242.3 499.7,238.6 499.4,234.9 499.0,231.2 498.6,227.5 498.3,223.8 497.9,220.1 497.6,216.5 497.2,212.8 496.9,209.1 496.6,205.4 496.2,201.7 495.9,198.0 495.6,194.4 495.3,190.7 495.0,187.0 494.7,183.3 494.4,179.6 494.1,175.9 493.8,172.2 493.5,168.6 493.3,164.9 493.0,161.2 492.7,157.5 492.4,153.8 492.2,150.1 491.9,146.4 491.7,142.8 491.4,139.1 491.2,135.4 490.9,131.7 490.7,128.0 490.4,124.3 490.2,120.7 490.0,117.0 489.7,113.3 489.5,109.6 489.3,105.9 489.1,102.2 488.8,98.5 488.6,94.9 488.4,91.2 488.2,87.5 488.0,83.8 487.8,80.1 487.6,76.4 487.4,72.7 487.2,69.1 487.0,65.4 486.8,61.7 486.6,58.0 486.4,54.3 486.2,50.6 486.1,47.0 485.9,43.3 485.7,39.6 485.5,35.9 485.3,32.2 485.2,28.5 485.0,24.8 484.8,21.2 484.7,17.5 484.5,13.8 484.3,10.1 484.2,6.4 484.0,2.7 483.9,-1.0 483.7,-4.6"/>
<polyline points="737.9,467.0 732.9,463.4 728.1,459.7 723.5,456.0 719.0,452.3 714.7,448.6 710.5,444.9 706.4,441.2 702.5,437.6 698.7,433.9 695.0,430.2 691.4,426.5 687.9,422.8 684.6,419.1 681.3,415.5 678.1,411.8 675.0,408.1 672.0,404.4 669.1,400.7 666.2,397.0 663.4,393.3 660.7,389.7 658.1,386.0 655.5,382.3 653.0,378.6 650.6,374.9 648.2,371.2 645.8,367.5 643.6,363.9 641.4,360.2 639.2,356.5 637.1,352.8 635.0,349.1 633.0,345.4 631.0,341.8 629.1,338.1 627.2,334.4 625.3,330.7 623.5,327.0 621.7,323.3 620.0,319.6 618.3,316.0 616.6,312.3 615.0,308.6 613.4,304.9 611.8,301.2 610.3,297.5 608.8,293.8 607.3,290.2 605.9,286.5 604.4,282.8 603.0,279.1 601.7,275.4 600.3,271.7 599.0,268.1 597.7,264.4 596.4,260.7 595.2,257.0 593.9,253.3 592.7,249.6 591.6,245.9 590.4,242.3 589.2,238.6 588.1,234.9 587.0,231.2 585.9,227.5 584.8,223.8 583.8,220.1 582.7,216.5 581.7,212.8 580.7,209.1 579.7,205.4 578.8,201.7 577.8,198.0 576.8,194.4 575.9,190.7 575.0,187.0 574.1,183.3 573.2,179.6 572.3,175.9 571.5,172.2 570.6,168.6 569.8,164.9 569.0,161.2 568.1,157.5 567.3,153.8 566.5,150.1 565.8,146.4 565.0,142.8 564.2,139.1 563.5,135.4 562.8,131.7 562.0,128.0 561.3,124.3 560.6,120.7 559.9,117.0 559.2,113.3 558.5,109.6 557.9,105.9 557.2,102.2 556.5,98.5 555.9,94.9 555.3,91.2 554.6,87.5 554.0,83.8 553.4,80.1 552.8,76.4 552.2,72.7 551.6,69.1 551.0,65.4 550.4,61.7 549.9,58.0 549.3,54.3 548.7,50.6 548.2,47.0 547.6,43.3 547.1,39.6 546.6,35.9 546.0,32.2 545.5,28.5 545.0,24.8 544.5,21.2 544.0,17.5 543.5,13.8 543.0,10.1 542.5,6.4 542.0,2.7 541.6,-1.0 541.1,-4.6"/>
<polyline points="910.2,459.7 902.5,456.0 895.0,452.3 887.8,448.6 880.8,444.9 874.0,441.2 867.5,437.6 861.2,433.9 855.0,430.2 849.0,426.5 843.2,422.8 837.6,419.1 832.1,415.5 826.8,411.8 821.7,408.1 816.6,404.4 811.8,400.7 807.0,397.0 802.4,393.3 797.9,389.7 793.5,386.0 789.2,382.3 785.0,378.6 780.9,374.9 777.0,371.2 773.1,367.5 769.3,363.9 765.6,360.2 762.0,356.5 758.4,352.8 755.0,349.1 751.6,345.4 748.3,341.8 745.1,338.1 742.0,334.4 738.9,330.7 735.9,327.0 732.9,323.3 730.0,319.6 727.2,316.0 724.4,312.3 721.7,308.6 719.0,304.9 716.4,301.2 713.8,297.5 711.3,293.8 708.8,290.2 706.4,286.5 704.1,282.8 701.7,279.1 699.4,275.4 697.2,271.7 695.0,268.1 692.8,264.4 690.7,260.7 688.6,257.0 686.6,253.3 684.6,249.6 682.6,245.9 680.6,242.3 678.7,238.6 676.8,234.9 675.0,231.2 673.2,227.5 671.4,223.8 669.6,220.1 667.9,216.5 666.2,212.8 664.5,209.1 662.9,205.4 661.2,201.7 659.7,198.0 658.1,194.4 656.5,190.7 655.0,187.0 653.5,183.3 652.0,179.6 650.6,175.9 649.1,172.2 647.7,168.6 646.3,164.9 644.9,161.2 643.6,157.5 642.2,153.8 640.9,150.1 639.6,146.4 638.3,142.8 637.1,139.1 635.8,135.4 634.6,131.7 633.4,128.0 632.2,124.3 631.0,120.7 629.8,117.0 628.7,113.3 627.5,109.6 626.4,105.9 625.3,102.2 624.2,98.5 623.2,94.9 622.1,91.2 621.0,87.5 620.0,83.8 619.0,80.1 618.0,76.4 617.0,72.7 616.0,69.1 615.0,65.4 614.0,61.7 613.1,58.0 612.1,54.3 611.2,50.6 610.3,47.0 609.4,43.3 608.5,39.6 607.6,35.9 606.7,32.2 605.9,28.5 605.0,24.8 604.2,21.2 603.3,17.5 602.5,13.8 601.7,10.1 600.9,6.4 600.1,2.7 599.3,-1.0 598.5,-4.6"/>
<polyline points="911.3,374.9 905.7,371.2 900.3,367.5 895.0,363.9 889.8,360.2 884.8,356.5 879.8,352.8 875.0,349.1 870.3,345.4 865.7,341.8 861.2,338.1 856.7,334.4 852.4,330.7 848.2,327.0 844.1,323.3 840.0,319.6 836.0,316.0 832.1,312.3 828.3,308.6 824.6,304.9 820.9,301.2 817.4,297.5 813.8,293.8 810.4,290.2 807.0,286.5 803.7,282.8 800.4,279.1 797.2,275.4 794.1,271.7 791.0,268.1 788.0,264.4 785.0,260.7 782.1,257.0 779.2,253.3 776.4,249.6 773.6,245.9 770.9,242.3 768.2,238.6 765.6,234.9 763.0,231.2 760.5,227.5 758.0,223.8 755.5,220.1 753.1,216.5 750.7,212.8 748.3,209.1 746.0,205.4 743.8,201.7 741.5,198.0 739.3,194.4 737.1,190.7 735.0,187.0 732.9,183.3 730.8,179.6 728.8,175.9 726.8,172.2 724.8,168.6 722.8,164.9 720.9,161.2 719.0,157.5 717.1,153.8 715.3,150.1 713.5,146.4 711.7,142.8 709.9,139.1 708.2,135.4 706.4,131.7 704.7,128.0 703.1,124.3 701.4,120.7 699.8,117.0 698.2,113.3 696.6,109.6 695.0,105.9 693.5,102.2 691.9,98.5 690.4,94.9 688.9,91.2 687.5,87.5 686.0,83.8 684.6,80.1 683.1,76.4 681.7,72.7 680.4,69.1 679.0,65.4 677.7,61.7 676.3,58.0 675.0,54.3 673.7,50.6 672.4,47.0 671.1,43.3 669.9,39.6 668.6,35.9 667.4,32.2 666.2,28.5 665.0,24.8 663.8,21.2 662.6,17.5 661.5,13.8 660.3,10.1 659.2,6.4 658.1,2.7 657.0,-1.0 655.9,-4.6"/>
<polyline points="911.9,290.2 907.6,286.5 903.3,282.8 899.1,279.1 895.0,275.4 891.0,271.7 887.0,268.1 883.1,264.4 879.3,260.7 875.5,257.0 871.8,253.3 868.2,249.6 864.7,245.9 861.2,242.3 857.7,238.6 854.3,234.9 851.0,231.2 847.7,227.5 844.5,223.8 841.3,220.1 838.2,216.5 835.2,212.8 832.1,209.1 829.2,205.4 826.2,201.7 823.4,198.0 820.5,194.4 817.7,190.7 815.0,187.0 812.3,183.3 809.6,179.6 807.0,175.9 804.4,172.2 801.9,168.6 799.3,164.9 796.9,161.2 794.4,157.5 792.0,153.8 789.6,150.1 787.3,146.4 785.0,142.8 782.7,139.1 780.5,135.4 778.3,131.7 776.1,128.0 773.9,124.3 771.8,120.7 769.7,117.0 767.6,113.3 765.6,109.6 763.6,105.9 761.6,102.2 759.6,98.5 757.7,94.9 755.8,91.2 753.9,87.5 752.0,83.8 750.2,80.1 748.3,76.4 746.5,72.7 744.8,69.1 743.0,65.4 741.3,61.7 739.6,58.0 737.9,54.3 736.2,50.6 734.5,47.0 732.9,43.3 731.3,39.6 729.7,35.9 728.1,32.2 726.5,28.5 725.0,24.8 723.5,21.2 722.0,17.5 720.5,13.8 719.0,10.1 717.5,6.4 716.1,2.7 714.7,-1.0 713.3,-4.6"/>
<polyline points="912.3,205.4 908.8,201.7 905.2,198.0 901.8,194.4 898.4,190.7 895.0,187.0 891.7,183.3 888.4,179.6 885.2,175.9 882.1,172.2 878.9,168.6 875.9,164.9 872.8,161.2 869.9,157.5 866.9,153.8 864.0,150.1 861.2,146.4 858.3,142.8 855.6,139.1 852.8,135.4 850.1,131.7 847.4,128.0 844.8,124.3 842.2,120.7 839.6,117.0 837.1,113.3 834.6,109.6 832.1,105.9 829.7,102.2 827.3,98.5 824.9,94.9 822.6,91.2 820.3,87.5 818.0,83.8 815.7,80.1 813.5,76.4 811.3,72.7 809.1,69.1 807.0,65.4 804.9,61.7 802.8,58.0 800.7,54.3 798.7,50.6 796.6,47.0 794.6,43.3 792.7,39.6 790.7,35.9 788.8,32.2 786.9,28.5 785.0,24.8 783.1,21.2 781.3,17.5 779.5,13.8 777.7,10.1 775.9,6.4 774.1,2.7 772.4,-1.0 770.7,-4.6"/>
<polyline points="912.6,120.7 909.6,117.0 906.6,113.3 903.6,109.6 900.7,105.9 897.8,102.2 895.0,98.5 892.2,94.9 889.4,91.2 886.7,87.5 884.0,83.8 881.3,80.1 878.7,76.4 876.1,72.7 873.5,69.1 871.0,65.4 868.5,61.7 866.0,58.0 863.6,54.3 861.2,50.6 858.8,47.0 856.4,43.3 854.1,39.6 851.8,35.9 849.5,32.2 847.2,28.5 845.0,24.8 842.8,21.2 840.6,17.5 838.5,13.8 836.3,10.1 834.2,6.4 832.1,2.7 830.1,-1.0 828.0,-4.6"/>
</g>
</g>
<rect x="8" y="4" width="896" height="6.300000000000001" fill="#fff"/>
<rect x="8" y="451.6" width="896" height="6" fill="#fff"/>
<rect x="13.95" y="10.100000000000001" width="2.35" height="441.6" fill="#000"/>
<rect x="893.95" y="10.100000000000001" width="2.2" height="441.6" fill="#000"/>

<rect x="-10" y="472.6" width="931.95" height="44.20" fill="#000"/>
<rect x="-43.11" y="474.80" width="56.46" height="39.90" fill="#0000ff"/>
<rect x="17.35" y="474.80" width="56.46" height="39.90" fill="#0069ff"/>
<rect x="77.81" y="474.80" width="56.46" height="39.90" fill="#00adff"/>
<rect x="138.27" y="474.80" width="56.46" height="39.90" fill="#00dbff"/>
<rect x="198.73" y="474.80" width="56.46" height="39.90" fill="#00ffff"/>
<rect x="259.19" y="474.80" width="56.46" height="39.90" fill="#00ffdb"/>
<rect x="319.65" y="474.80" width="56.46" height="39.90" fill="#00ffad"/>
<rect x="380.11" y="474.80" width="56.46" height="39.90" fill="#00ff69"/>
<rect x="440.57" y="474.80" width="56.46" height="39.90" fill="#69ff00"/>
<rect x="501.03" y="474.80" width="56.46" height="39.90" fill="#adff00"/>
<rect x="561.49" y="474.80" width="56.46" height="39.90" fill="#dbff00"/>
<rect x="621.95" y="474.80" width="56.46" height="39.90" fill="#ffff00"/>
<rect x="682.41" y="474.80" width="56.46" height="39.90" fill="#ffdb00"/>
<rect x="742.87" y="474.80" width="56.46" height="39.90" fill="#ffad00"/>
<rect x="803.33" y="474.80" width="56.46" height="39.90" fill="#ff6900"/>
<rect x="863.79" y="474.80" width="56.16" height="39.90" fill="#ff0000"/>
<rect x="-5" y="472.1" width="927" height="0.8" fill="#6f6f6f"/>
<rect x="921.5" y="472.3" width="9" height="1.2" fill="#6f6f6f"/>
<polygon points="929.5,467.6 940.6,473 929.5,478.4" fill="#6f6f6f"/>
<rect x="42.0" y="468.2" width="1" height="4.6" fill="#555"/>
<rect x="130.0" y="468.2" width="1" height="4.6" fill="#555"/>
<rect x="218.0" y="468.2" width="1" height="4.6" fill="#555"/>
<rect x="306.0" y="468.2" width="1" height="4.6" fill="#555"/>
<rect x="394.0" y="468.2" width="1" height="4.6" fill="#555"/>
<rect x="482.0" y="468.2" width="1" height="4.6" fill="#555"/>
<rect x="570.0" y="468.2" width="1" height="4.6" fill="#555"/>
<rect x="658.0" y="468.2" width="1" height="4.6" fill="#555"/>
<rect x="746.0" y="468.2" width="1" height="4.6" fill="#555"/>
<rect x="834.0" y="468.2" width="1" height="4.6" fill="#555"/>
<rect x="922.0" y="468.2" width="1" height="9.0" fill="#555"/>
<rect x="-5" y="516.5" width="920" height="0.9" fill="#6f6f6f"/>
<polygon points="910.4,511.9 921.5,516.9 910.4,522.5" fill="#6f6f6f"/>
<rect x="14.90" y="512" width="1.5" height="9.6" fill="#6f6f6f"/>
<rect x="75.36" y="512" width="1.5" height="9.6" fill="#6f6f6f"/>
<rect x="135.82" y="512" width="1.5" height="9.6" fill="#6f6f6f"/>
<rect x="196.28" y="512" width="1.5" height="9.6" fill="#6f6f6f"/>
<rect x="256.74" y="512" width="1.5" height="9.6" fill="#6f6f6f"/>
<rect x="317.20" y="512" width="1.5" height="9.6" fill="#6f6f6f"/>
<rect x="377.66" y="512" width="1.5" height="9.6" fill="#6f6f6f"/>
<rect x="438.12" y="512" width="1.5" height="9.6" fill="#6f6f6f"/>
<rect x="498.58" y="512" width="1.5" height="9.6" fill="#6f6f6f"/>
<rect x="559.04" y="512" width="1.5" height="9.6" fill="#6f6f6f"/>
<rect x="619.50" y="512" width="1.5" height="9.6" fill="#6f6f6f"/>
<rect x="679.96" y="512" width="1.5" height="9.6" fill="#6f6f6f"/>
<rect x="740.42" y="512" width="1.5" height="9.6" fill="#6f6f6f"/>
<rect x="800.88" y="512" width="1.5" height="9.6" fill="#6f6f6f"/>
<rect x="861.34" y="512" width="1.5" height="9.6" fill="#6f6f6f"/>
<rect x="921.8" y="484" width="0.9" height="12" fill="#333"/>
<g style="opacity:.999">
<g font-family="'Liberation Serif', serif" font-size="18.9" fill="#6f6f6f" stroke="#6f6f6f" stroke-width="0.45">
<text transform="translate(15.65,540) scale(1.07,1)" x="0" y="0" text-anchor="middle">50</text>
<text transform="translate(76.11,540) scale(1.07,1)" x="0" y="0" text-anchor="middle">60</text>
<text transform="translate(136.57,540) scale(1.07,1)" x="0" y="0" text-anchor="middle">70</text>
<text transform="translate(197.03,540) scale(1.07,1)" x="0" y="0" text-anchor="middle">80</text>
<text transform="translate(257.49,540) scale(1.07,1)" x="0" y="0" text-anchor="middle">90</text>
<text transform="translate(317.95,540) scale(1.07,1)" x="0" y="0" text-anchor="middle">100</text>
<text transform="translate(378.41,540) scale(1.07,1)" x="0" y="0" text-anchor="middle">110</text>
<text transform="translate(438.87,540) scale(1.07,1)" x="0" y="0" text-anchor="middle">120</text>
<text transform="translate(499.33,540) scale(1.07,1)" x="0" y="0" text-anchor="middle">130</text>
<text transform="translate(559.79,540) scale(1.07,1)" x="0" y="0" text-anchor="middle">140</text>
<text transform="translate(620.25,540) scale(1.07,1)" x="0" y="0" text-anchor="middle">150</text>
<text transform="translate(680.71,540) scale(1.07,1)" x="0" y="0" text-anchor="middle">160</text>
<text transform="translate(741.17,540) scale(1.07,1)" x="0" y="0" text-anchor="middle">170</text>
<text transform="translate(801.63,540) scale(1.07,1)" x="0" y="0" text-anchor="middle">180</text>
<text transform="translate(862.09,540) scale(1.07,1)" x="0" y="0" text-anchor="middle">190</text>
</g>
<g font-family="'Liberation Serif', serif">
<text transform="translate(947.11,517.1) scale(1.2769,1.034)" x="0" y="0" font-size="36" font-style="italic" fill="#000">T</text>
<text transform="translate(993.17,518.57) scale(0.9024,1.109)" x="0" y="0" font-size="40"  fill="#000">(</text>
<text transform="translate(1006.98,511.42) scale(0.717,0.7245)" x="0" y="0" font-size="38" font-weight="bold" fill="#000088" stroke="#000088" stroke-width="1.8">°</text>
<text transform="translate(1015.96,516.36) scale(1.1663,0.9843)" x="0" y="0" font-size="37" font-style="italic" fill="#000088" stroke="#000088" stroke-width="0.7">C</text>
<text transform="translate(1046.23,518.57) scale(0.9366,1.109)" x="0" y="0" font-size="40"  fill="#000">)</text>
</g>
</g>
</svg>
</body></html>
